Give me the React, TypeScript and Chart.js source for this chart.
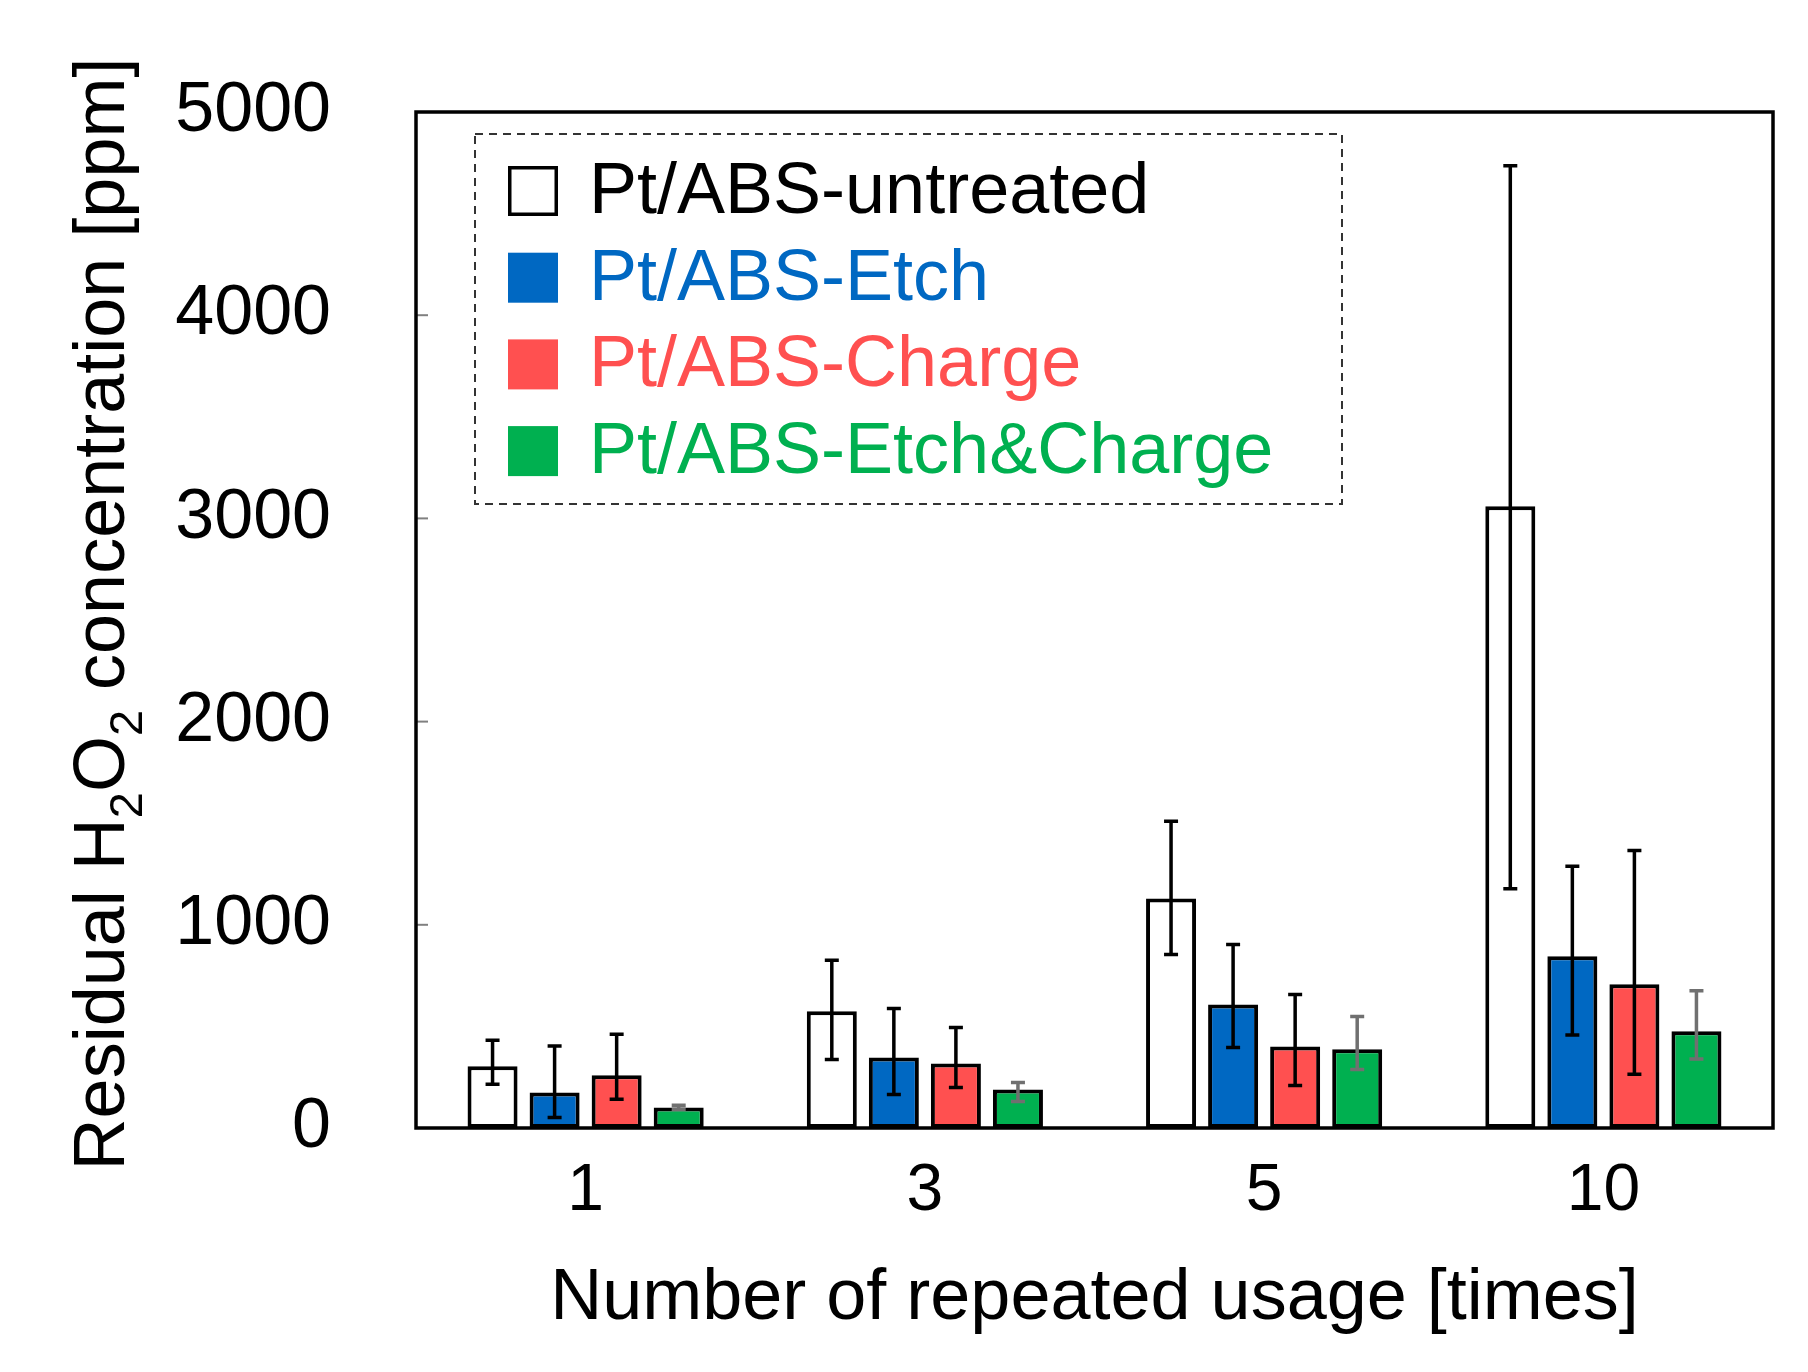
import { useEffect, useRef } from 'react'
import { Chart, registerables } from 'chart.js'

Chart.register(...registerables)

const FONT = '"Liberation Sans", Arial, sans-serif'

const categories = ['1', '3', '5', '10']
const seriesNames = ['Pt/ABS-untreated', 'Pt/ABS-Etch', 'Pt/ABS-Charge', 'Pt/ABS-Etch&Charge']
const yTicks = [0, 1000, 2000, 3000, 4000, 5000]

// bar heights [ppm]
const untreated = [304, 574, 1130, 3060]
const etch = [175, 347, 608, 845]
const charge = [259, 317, 401, 708]
const etchCharge = [101, 190, 387, 476]

// error bar extents above / below the bar top
const untreatedPlus = [128, 251, 379, 1675]
const untreatedMinus = [89, 237, 276, 1883]
const etchPlus = [228, 241, 295, 443]
const etchMinus = [123, 182, 212, 387]
const chargePlus = [202, 178, 256, 658]
const chargeMinus = [118, 118, 192, 444]
const etchChargePlus = [11, 34, 162, 199]
const etchChargeMinus = [9, 60, 99, 136]

const fills = ['#ffffff', '#0068c2', '#ff5050', '#00b050']
const textColors = ['#000000', '#0068c2', '#ff5050', '#00b050']
const errColors = ['#000000', '#000000', '#000000', '#707070']

const values = [untreated, etch, charge, etchCharge]
const plus = [untreatedPlus, etchPlus, chargePlus, etchChargePlus]
const minus = [untreatedMinus, etchMinus, chargeMinus, etchChargeMinus]

const errorBars = {
  id: 'errorBars',
  afterDatasetsDraw(chart: any) {
    const { ctx } = chart
    const y = chart.scales.y
    ctx.save()
    ctx.lineWidth = 3.5
    chart.data.datasets.forEach((ds: any, i: number) => {
      const meta = chart.getDatasetMeta(i)
      ctx.strokeStyle = errColors[i]
      meta.data.forEach((bar: any, j: number) => {
        const top = y.getPixelForValue(values[i][j] + plus[i][j])
        const bot = y.getPixelForValue(values[i][j] - minus[i][j])
        const x = bar.x
        ctx.beginPath()
        ctx.moveTo(x, top)
        ctx.lineTo(x, bot)
        ctx.moveTo(x - 7, top)
        ctx.lineTo(x + 7, top)
        ctx.moveTo(x - 7, bot)
        ctx.lineTo(x + 7, bot)
        ctx.stroke()
      })
    })
    ctx.restore()
  },
}

const frame = {
  id: 'frame',
  afterDraw(chart: any) {
    const { ctx, chartArea: a } = chart
    const y = chart.scales.y
    ctx.save()
    // inward ticks on the left axis
    ctx.strokeStyle = '#808080'
    ctx.lineWidth = 2
    y.ticks.forEach((t: any) => {
      const py = y.getPixelForValue(t.value)
      ctx.beginPath()
      ctx.moveTo(a.left, py)
      ctx.lineTo(a.left + 12, py)
      ctx.stroke()
    })
    ctx.strokeStyle = '#000000'
    ctx.lineWidth = 3.5
    ctx.strokeRect(a.left, a.top, a.right - a.left, a.bottom - a.top)

    // y axis title with subscripts
    const parts: [string, boolean][] = [
      ['Residual H', false],
      ['2', true],
      ['O', false],
      ['2', true],
      [' concentration [ppm]', false],
    ]
    const big = '72px ' + FONT
    const small = '47px ' + FONT
    let total = 0
    parts.forEach(([s, sub]) => {
      ctx.font = sub ? small : big
      total += ctx.measureText(s).width
    })
    ctx.translate(124, (a.top + a.bottom) / 2 - 6)
    ctx.rotate(-Math.PI / 2)
    ctx.fillStyle = '#000000'
    ctx.textBaseline = 'alphabetic'
    ctx.textAlign = 'left'
    let cx = -total / 2
    parts.forEach(([s, sub]) => {
      ctx.font = sub ? small : big
      ctx.fillText(s, cx, sub ? 18 : 0)
      cx += ctx.measureText(s).width
    })
    ctx.restore()

    // legend in a dashed box
    ctx.save()
    ctx.setLineDash([8, 6])
    ctx.lineWidth = 2
    ctx.strokeStyle = '#333333'
    ctx.strokeRect(a.left + 59, a.top + 22, 867, 370)
    ctx.setLineDash([])
    ctx.font = '72px ' + FONT
    ctx.textBaseline = 'middle'
    chart.data.datasets.forEach((ds: any, i: number) => {
      const cy = a.top + 79 + i * 86.7
      const sx = a.left + 92
      ctx.fillStyle = fills[i]
      ctx.fillRect(sx, cy - 25, 50, 50)
      if (i === 0) {
        ctx.lineWidth = 3.5
        ctx.strokeStyle = '#000000'
        ctx.strokeRect(sx + 1.75, cy - 23.25, 46.5, 46.5)
      }
      ctx.fillStyle = textColors[i]
      ctx.fillText(ds.label, a.left + 173, cy + 2)
    })
    ctx.restore()
  },
}

export default function App() {
  const canvasRef = useRef<HTMLCanvasElement>(null)

  useEffect(() => {
    document.body.style.margin = '0'
    if (!canvasRef.current) return

    const chart = new Chart(canvasRef.current, {
      type: 'bar',
      data: {
        labels: categories,
        datasets: seriesNames.map((name, i) => ({
          label: name,
          data: values[i],
          backgroundColor: fills[i],
          borderColor: '#000000',
          borderWidth: 4,
          borderSkipped: false,
          categoryPercentage: 0.7316,
          barPercentage: 0.806,
        })),
      },
      options: {
        responsive: false,
        animation: false,
        devicePixelRatio: 1,
        layout: { padding: { top: 112, right: 35, left: 0, bottom: 0 } },
        plugins: {
          legend: { display: false },
          tooltip: { enabled: false },
        },
        scales: {
          x: {
            grid: { display: false, drawTicks: false },
            border: { display: false },
            ticks: {
              color: '#000000',
              padding: 24,
              font: { family: FONT, size: 66 },
            },
            title: {
              display: true,
              text: 'Number of repeated usage [times]',
              color: '#000000',
              font: { family: FONT, size: 72 },
              padding: { top: 0, bottom: 30 },
            },
            afterFit(scale: any) {
              scale.height = 244
            },
          },
          y: {
            min: 0,
            max: 5000,
            afterBuildTicks(scale: any) {
              scale.ticks = yTicks.map((v) => ({ value: v }))
            },
            grid: { display: false, drawTicks: false },
            border: { display: false },
            ticks: {
              color: '#000000',
              padding: 85,
              font: { family: FONT, size: 70 },
              callback: (v: any) => String(v),
            },
            afterFit(scale: any) {
              scale.width = 416
              scale.paddingTop = 45
              scale.paddingBottom = 45
            },
          },
        },
      },
      plugins: [errorBars, frame],
    })

    return () => chart.destroy()
  }, [])

  return (
    <div style={{ width: 1808, height: 1372, background: '#ffffff' }}>
      <canvas ref={canvasRef} width={1808} height={1372} style={{ display: 'block' }}></canvas>
    </div>
  )
}
